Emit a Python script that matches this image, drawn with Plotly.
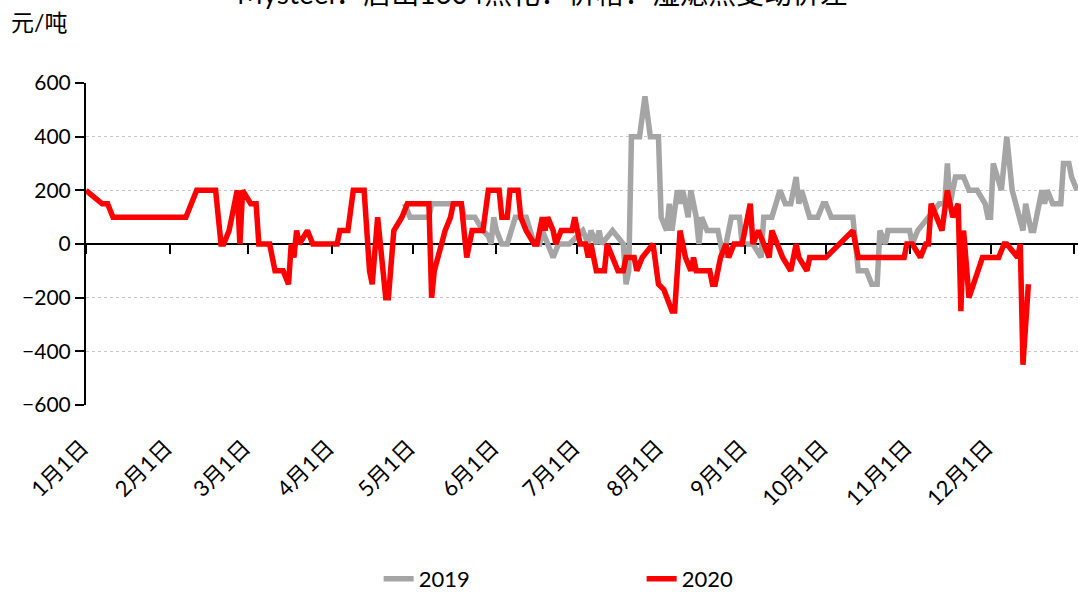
import plotly.graph_objects as go

# ---------------- data ----------------
dates_2020 = ["2020-01-01","2020-01-07","2020-01-09","2020-01-11","2020-02-07","2020-02-11","2020-02-18",
 "2020-02-20","2020-02-21","2020-02-23","2020-02-24","2020-02-26","2020-02-27","2020-02-28","2020-03-02",
 "2020-03-04","2020-03-05","2020-03-09","2020-03-11","2020-03-14","2020-03-16","2020-03-17","2020-03-18",
 "2020-03-19","2020-03-20","2020-03-23","2020-03-25","2020-04-03","2020-04-04","2020-04-07","2020-04-09",
 "2020-04-13","2020-04-15","2020-04-16","2020-04-18","2020-04-21","2020-04-22","2020-04-24","2020-04-27",
 "2020-04-29","2020-05-07","2020-05-08","2020-05-09","2020-05-13","2020-05-15","2020-05-16","2020-05-19",
 "2020-05-21","2020-05-23","2020-05-27","2020-05-29","2020-06-02","2020-06-03","2020-06-05","2020-06-06",
 "2020-06-09","2020-06-10","2020-06-12","2020-06-15","2020-06-16","2020-06-18","2020-06-19","2020-06-20",
 "2020-06-22","2020-06-23","2020-06-25","2020-06-29","2020-06-30","2020-07-02","2020-07-04","2020-07-05",
 "2020-07-06","2020-07-08","2020-07-11","2020-07-12","2020-07-14","2020-07-16","2020-07-18","2020-07-19",
 "2020-07-22","2020-07-23","2020-07-25","2020-07-29","2020-07-31","2020-08-02","2020-08-05","2020-08-06",
 "2020-08-08","2020-08-10","2020-08-12","2020-08-13","2020-08-14","2020-08-19","2020-08-20","2020-08-21",
 "2020-08-23","2020-08-25","2020-08-26","2020-08-28","2020-08-31","2020-09-03","2020-09-04","2020-09-06",
 "2020-09-08","2020-09-10","2020-09-11","2020-09-15","2020-09-18","2020-09-20","2020-09-21","2020-09-24",
 "2020-09-25","2020-10-01","2020-10-11","2020-10-13","2020-10-30","2020-10-31","2020-11-02","2020-11-05",
 "2020-11-07","2020-11-08","2020-11-09","2020-11-11","2020-11-13","2020-11-15","2020-11-17","2020-11-19",
 "2020-11-20","2020-11-21","2020-11-23","2020-11-28","2020-12-04","2020-12-06","2020-12-07","2020-12-11",
 "2020-12-12","2020-12-13","2020-12-15"]
values_2020 = [200,150,150,100,100,200,200,
 0,0,50,100,200,0,200,150,
 150,0,0,-100,-100,-150,0,-50,
 50,0,50,0,0,50,50,200,
 200,-100,-150,100,-200,-200,50,100,
 150,150,-200,-100,50,100,150,150,
 -50,50,50,200,200,100,100,200,
 200,100,50,0,0,100,50,100,
 50,0,50,50,100,0,0,-50,
 0,-100,-100,0,-50,-100,-100,-50,
 -50,-100,-50,0,-150,-170,-250,-250,
 50,-50,-100,-50,-100,-100,-150,-150,
 -50,0,-50,0,0,150,0,50,
 0,-50,50,-50,-100,0,-50,-100,
 -50,-50,50,-50,-50,0,0,-50,
 0,0,150,100,50,200,100,150,
 -250,50,-200,-50,-50,0,0,-50,
 0,-450,-150]

dates_2019 = ["2020-04-28","2020-04-30","2020-05-07","2020-05-08","2020-05-19","2020-05-20","2020-05-24",
 "2020-05-27","2020-05-29","2020-05-30","2020-05-31","2020-06-01","2020-06-03","2020-06-05","2020-06-08",
 "2020-06-12","2020-06-15","2020-06-17","2020-06-18","2020-06-20","2020-06-22","2020-06-24","2020-06-28",
 "2020-07-03","2020-07-05","2020-07-06","2020-07-08","2020-07-09","2020-07-10","2020-07-14","2020-07-18",
 "2020-07-19","2020-07-20","2020-07-21","2020-07-24","2020-07-26","2020-07-28","2020-07-31","2020-08-01",
 "2020-08-03","2020-08-04","2020-08-05","2020-08-07","2020-08-08","2020-08-09","2020-08-11","2020-08-12",
 "2020-08-14","2020-08-15","2020-08-16","2020-08-18","2020-08-22","2020-08-24","2020-08-27","2020-08-30",
 "2020-08-31","2020-09-04","2020-09-07","2020-09-08","2020-09-11","2020-09-14","2020-09-16","2020-09-18",
 "2020-09-20","2020-09-21","2020-09-22","2020-09-25","2020-09-28","2020-09-30","2020-10-01","2020-10-03",
 "2020-10-11","2020-10-13","2020-10-16","2020-10-18","2020-10-20","2020-10-21","2020-10-23","2020-10-24",
 "2020-11-01","2020-11-02","2020-11-04","2020-11-08","2020-11-12","2020-11-14","2020-11-15","2020-11-16",
 "2020-11-18","2020-11-21","2020-11-23","2020-11-26","2020-11-29","2020-11-30","2020-12-01","2020-12-02",
 "2020-12-05","2020-12-07","2020-12-09","2020-12-13","2020-12-14","2020-12-16","2020-12-17","2020-12-20",
 "2020-12-21","2020-12-22","2020-12-24","2020-12-27","2020-12-28","2020-12-30","2020-12-31","2021-01-02"]
values_2019 = [150,100,100,150,150,100,100,
 50,30,0,100,50,0,0,100,
 100,0,0,50,0,-50,0,0,
 50,0,50,0,50,0,50,0,
 -150,-100,400,400,550,400,400,100,
 50,150,50,200,150,200,100,200,
 100,0,100,50,50,-50,100,100,
 0,0,-50,100,100,200,150,150,
 250,150,200,100,100,150,150,100,
 100,-100,-100,-150,-150,50,0,50,
 50,0,50,100,150,150,300,150,
 250,250,200,200,150,100,100,300,
 200,400,200,50,150,50,50,200,
 150,200,150,150,300,300,250,200]

tick_dates = ["2020-01-01","2020-02-01","2020-03-01","2020-04-01","2020-05-01","2020-06-01",
              "2020-07-01","2020-08-01","2020-09-01","2020-10-01","2020-11-01","2020-12-01"]
tick_labels = ["1月1日","2月1日","3月1日","4月1日","5月1日","6月1日",
               "7月1日","8月1日","9月1日","10月1日","11月1日","12月1日"]
minor_ticks = tick_dates + ["2021-01-01"]

series_names = ["2019", "2020"]
unit_label = "元/吨"
title_text = "Mysteel：唐山1604焦化：价格：湿熄焦变动价差"

# ---------------- figure ----------------
FONT = "Lato, 'Noto Sans CJK SC', sans-serif"
x_range = ["2020-01-01", "2021-01-02 09:00"]

fig = go.Figure()
fig.add_trace(go.Scatter(x=dates_2019, y=values_2019, mode="lines", name=series_names[0],
                         line=dict(color="#A5A5A5", width=5.5)))
fig.add_trace(go.Scatter(x=dates_2020, y=values_2020, mode="lines", name=series_names[1],
                         line=dict(color="#FF0000", width=5.5)))
# invisible trace to carry the tick axis on the zero line
fig.add_trace(go.Scatter(x=x_range, y=[0, 0], xaxis="x2", mode="lines",
                         line=dict(color="rgba(0,0,0,0)"), showlegend=False, hoverinfo="skip"))

fig.update_layout(
    width=1078, height=595,
    margin=dict(l=86, r=0, t=83, b=190, autoexpand=False),
    paper_bgcolor="white", plot_bgcolor="white",
    font=dict(family=FONT, color="black"),
    showlegend=True,
    legend=dict(orientation="h", x=0.295, xanchor="left", y=-0.54, yanchor="middle",
                entrywidth=218, entrywidthmode="pixels",
                font=dict(size=22, family=FONT), bgcolor="rgba(0,0,0,0)"),
    xaxis=dict(type="date", range=x_range, tickvals=tick_dates, ticktext=tick_labels,
               tickangle=-45, tickfont=dict(size=22, family=FONT), automargin=False,
               ticks="outside", ticklen=20, tickcolor="rgba(0,0,0,0)", ticklabelshift=-4,
               showgrid=False, showline=False, zeroline=False),
    xaxis2=dict(type="date", range=x_range, overlaying="x", anchor="free", position=0.5,
                tickvals=minor_ticks, showticklabels=False, ticks="outside", ticklen=9,
                tickwidth=1.5, tickcolor="black", showgrid=False, showline=False, zeroline=False),
    yaxis=dict(range=[-600, 600], dtick=200, tick0=0, showline=True, linecolor="black", linewidth=2,
               ticks="outside", ticklen=9, tickwidth=2, tickcolor="black", automargin=False,
               tickfont=dict(size=21, family=FONT),
               showgrid=True, gridcolor="#C8C8C8", gridwidth=1, griddash="dot",
               zeroline=True, zerolinecolor="black", zerolinewidth=1.5),
)

fig.add_annotation(text=unit_label, xref="paper", yref="paper", x=-0.078, y=1.19,
                   xanchor="left", yanchor="middle", showarrow=False,
                   font=dict(size=23, family=FONT))
fig.add_annotation(text=title_text, xref="paper", yref="paper", x=0.46, y=1.222,
                   xanchor="center", yanchor="bottom", showarrow=False,
                   font=dict(size=28, family=FONT))

fig.write_html("out.html", config={"displayModeBar": False},
               post_script="document.body.style.margin='0px';")
